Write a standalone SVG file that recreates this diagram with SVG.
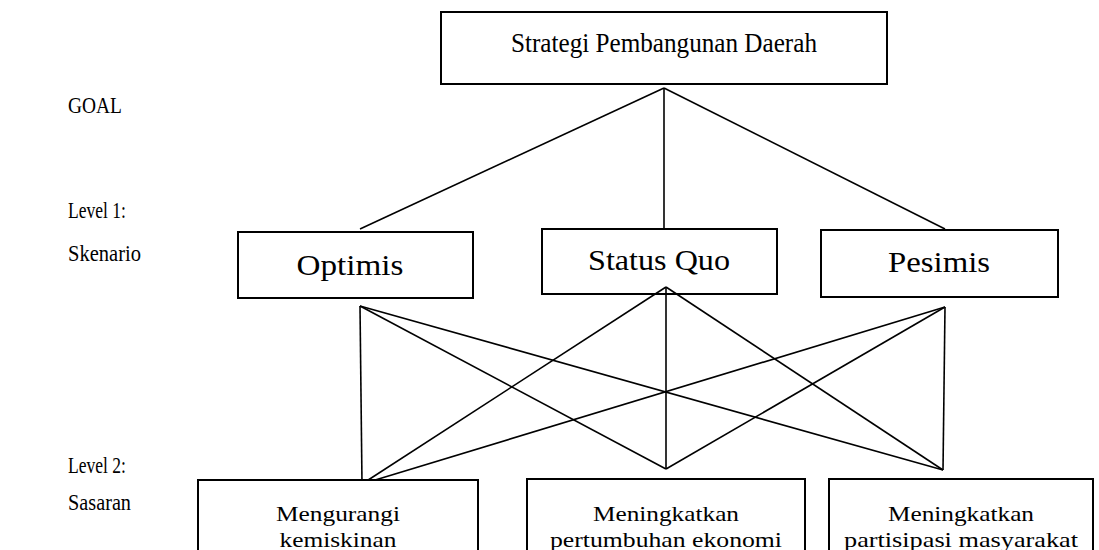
<svg xmlns="http://www.w3.org/2000/svg" width="1099" height="550" viewBox="0 0 1099 550">
<style>
.box{fill:#fff;stroke:#000;stroke-width:2}
text{font-family:'Liberation Serif','Times New Roman',serif;fill:#000}
.big{font-size:28px}
.lvl{font-size:29px}
.lab{font-size:23px}
.sm{font-size:21px}
.c line{stroke:#000;stroke-width:1.6}
</style>
<rect width="1099" height="550" fill="#fff"/>
<g id="labels">
<text class="lab" x="68" y="113" textLength="54" lengthAdjust="spacingAndGlyphs">GOAL</text>
<text class="lab" x="68" y="218" textLength="58" lengthAdjust="spacingAndGlyphs">Level 1:</text>
<text class="lab" x="68" y="261" textLength="73" lengthAdjust="spacingAndGlyphs">Skenario</text>
<text class="lab" x="68" y="473" textLength="58" lengthAdjust="spacingAndGlyphs">Level 2:</text>
<text class="lab" x="68" y="510" textLength="63" lengthAdjust="spacingAndGlyphs">Sasaran</text>
</g>
<g class="c" id="connectors">
<line x1="664" y1="88" x2="360" y2="229"/>
<line x1="664" y1="88" x2="664" y2="229"/>
<line x1="664" y1="88" x2="945" y2="229"/>
<line x1="360" y1="306" x2="362" y2="484"/>
<line x1="360" y1="306" x2="666" y2="469"/>
<line x1="360" y1="306" x2="943" y2="470"/>
<line x1="666" y1="287" x2="362" y2="484"/>
<line x1="666" y1="287" x2="666" y2="469"/>
<line x1="666" y1="287" x2="943" y2="470"/>
<line x1="945" y1="307" x2="362" y2="484"/>
<line x1="945" y1="307" x2="666" y2="469"/>
<line x1="945" y1="307" x2="943" y2="470"/>
</g>
<g id="goal">
<rect class="box" x="441" y="12" width="446" height="72"/>
<text class="big" x="664" y="52" text-anchor="middle" textLength="306" lengthAdjust="spacingAndGlyphs">Strategi Pembangunan Daerah</text>
</g>
<g id="optimis">
<rect class="box" x="238" y="232" width="235" height="66"/>
<text class="lvl" x="350" y="275" text-anchor="middle" textLength="107" lengthAdjust="spacingAndGlyphs">Optimis</text>
</g>
<g id="statusquo">
<rect x="542" y="229" width="235" height="65" fill="none" stroke="#000" stroke-width="2"/>
<text class="lvl" x="659" y="270" text-anchor="middle" textLength="142" lengthAdjust="spacingAndGlyphs">Status Quo</text>
</g>
<g id="pesimis">
<rect class="box" x="821" y="230" width="237" height="67"/>
<text class="lvl" x="939" y="272" text-anchor="middle" textLength="102" lengthAdjust="spacingAndGlyphs">Pesimis</text>
</g>
<g id="s1">
<rect class="box" x="198" y="480" width="280" height="80"/>
<text class="sm" x="338" y="521" text-anchor="middle" textLength="124" lengthAdjust="spacingAndGlyphs">Mengurangi</text>
<text class="sm" x="338" y="547" text-anchor="middle" textLength="117" lengthAdjust="spacingAndGlyphs">kemiskinan</text>
</g>
<g id="s2">
<rect class="box" x="527" y="479" width="278" height="80"/>
<text class="sm" x="666" y="521" text-anchor="middle" textLength="146" lengthAdjust="spacingAndGlyphs">Meningkatkan</text>
<text class="sm" x="666" y="547" text-anchor="middle" textLength="232" lengthAdjust="spacingAndGlyphs">pertumbuhan ekonomi</text>
</g>
<g id="s3">
<rect class="box" x="829" y="479" width="264" height="80"/>
<text class="sm" x="961" y="521" text-anchor="middle" textLength="146" lengthAdjust="spacingAndGlyphs">Meningkatkan</text>
<text class="sm" x="961" y="547" text-anchor="middle" textLength="234" lengthAdjust="spacingAndGlyphs">partisipasi masyarakat</text>
</g>
</svg>
